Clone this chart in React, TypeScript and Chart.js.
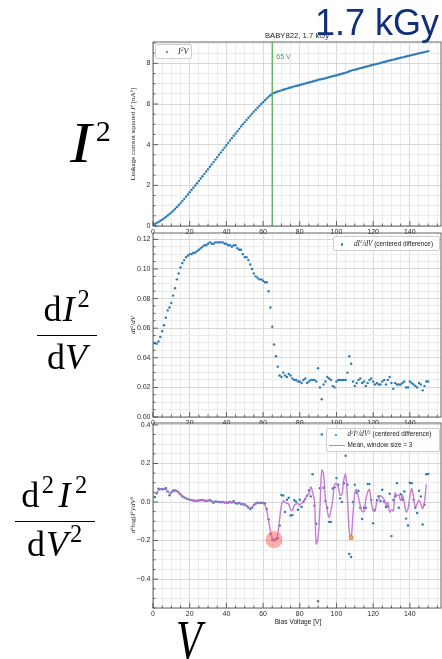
import React, { useEffect, useRef } from "react";
import { Chart, registerables } from "chart.js";

Chart.register(...registerables);

// ---------------- data ----------------
const VOLTAGE = [
  1, 2, 3, 4, 5, 6, 7, 8, 9, 10, 11, 12, 13, 14, 15, 16, 17, 18, 19, 20,
  21, 22, 23, 24, 25, 26, 27, 28, 29, 30, 31, 32, 33, 34, 35, 36, 37, 38, 39, 40,
  41, 42, 43, 44, 45, 46, 47, 48, 49, 50, 51, 52, 53, 54, 55, 56, 57, 58, 59, 60,
  61, 62, 63, 64, 65, 66, 67, 68, 69, 70, 71, 72, 73, 74, 75, 76, 77, 78, 79, 80,
  81, 82, 83, 84, 85, 86, 87, 88, 89, 90, 91, 92, 93, 94, 95, 96, 97, 98, 99, 100,
  101, 102, 103, 104, 105, 106, 107, 108, 109, 110, 111, 112, 113, 114, 115, 116, 117, 118, 119, 120,
  121, 122, 123, 124, 125, 126, 127, 128, 129, 130, 131, 132, 133, 134, 135, 136, 137, 138, 139, 140,
  141, 142, 143, 144, 145, 146, 147, 148, 149, 150,
];

const I_SQUARED = [
  0.100, 0.150, 0.201, 0.255, 0.313, 0.375, 0.442, 0.514, 0.588, 0.665,
  0.747, 0.834, 0.927, 1.024, 1.125, 1.229, 1.335, 1.443, 1.552, 1.662,
  1.772, 1.883, 1.994, 2.106, 2.219, 2.333, 2.448, 2.564, 2.680, 2.797,
  2.915, 3.032, 3.149, 3.267, 3.385, 3.503, 3.621, 3.739, 3.856, 3.973,
  4.089, 4.205, 4.320, 4.436, 4.552, 4.666, 4.779, 4.892, 5.002, 5.110,
  5.218, 5.324, 5.427, 5.527, 5.624, 5.719, 5.813, 5.906, 5.999, 6.091,
  6.182, 6.273, 6.358, 6.432, 6.493, 6.542, 6.583, 6.617, 6.645, 6.672,
  6.702, 6.730, 6.757, 6.786, 6.814, 6.840, 6.865, 6.890, 6.914, 6.938,
  6.961, 6.986, 7.012, 7.035, 7.059, 7.084, 7.109, 7.134, 7.158, 7.191,
  7.211, 7.223, 7.245, 7.269, 7.296, 7.322, 7.347, 7.368, 7.388, 7.412,
  7.437, 7.462, 7.487, 7.512, 7.537, 7.567, 7.608, 7.644, 7.668, 7.689,
  7.712, 7.737, 7.763, 7.786, 7.810, 7.831, 7.854, 7.879, 7.905, 7.929,
  7.951, 7.974, 7.996, 8.018, 8.042, 8.067, 8.089, 8.114, 8.141, 8.164,
  8.183, 8.206, 8.228, 8.250, 8.272, 8.295, 8.319, 8.339, 8.359, 8.383,
  8.406, 8.428, 8.449, 8.469, 8.492, 8.514, 8.532, 8.553, 8.577, 8.601,
];

const DI2_DV = [
  0.050, 0.0495, 0.051, 0.054, 0.058, 0.062, 0.067, 0.072, 0.074, 0.077,
  0.082, 0.087, 0.093, 0.097, 0.101, 0.104, 0.106, 0.108, 0.109, 0.110,
  0.110, 0.111, 0.111, 0.112, 0.113, 0.114, 0.115, 0.116, 0.116, 0.117,
  0.118, 0.117, 0.117, 0.118, 0.118, 0.118, 0.118, 0.118, 0.117, 0.117,
  0.116, 0.116, 0.115, 0.116, 0.116, 0.114, 0.113, 0.113, 0.110, 0.108,
  0.108, 0.106, 0.103, 0.100, 0.097, 0.095, 0.094, 0.093, 0.093, 0.092,
  0.091, 0.091, 0.085, 0.074, 0.061, 0.049, 0.041, 0.034, 0.028, 0.027,
  0.030, 0.028, 0.027, 0.029, 0.028, 0.026, 0.025, 0.025, 0.024, 0.024,
  0.023, 0.025, 0.026, 0.023, 0.024, 0.025, 0.025, 0.025, 0.024, 0.033,
  0.020, 0.012, 0.022, 0.024, 0.027, 0.026, 0.025, 0.021, 0.020, 0.024,
  0.025, 0.025, 0.025, 0.025, 0.025, 0.030, 0.041, 0.036, 0.024, 0.021,
  0.023, 0.025, 0.026, 0.023, 0.024, 0.021, 0.023, 0.025, 0.026, 0.024,
  0.022, 0.023, 0.022, 0.022, 0.024, 0.025, 0.022, 0.025, 0.027, 0.023,
  0.019, 0.023, 0.022, 0.022, 0.022, 0.023, 0.024, 0.020, 0.020, 0.024,
  0.023, 0.022, 0.021, 0.020, 0.023, 0.022, 0.018, 0.021, 0.024, 0.024,
];

const D2_LOG_I2 = [
  0.026, 0.045, 0.069, 0.067, 0.066, 0.068, 0.072, 0.055, 0.035, 0.050,
  0.060, 0.060, 0.058, 0.050, 0.040, 0.030, 0.024, 0.019, 0.015, 0.012,
  0.010, 0.008, 0.007, 0.007, 0.008, 0.009, 0.010, 0.008, 0.006, 0.007,
  0.010, 0.004, -0.004, 0.003, 0.002, 0.000, -0.001, 0.000, -0.003, -0.002,
  -0.004, 0.000, -0.003, 0.004, -0.006, -0.008, -0.005, -0.010, -0.012, -0.013,
  -0.020, -0.028, -0.036, -0.030, -0.015, -0.008, -0.004, -0.005, -0.004, -0.005,
  -0.007, -0.036, -0.090, -0.165, -0.195, -0.200, -0.192, -0.188, -0.122, 0.036,
  0.034, -0.052, 0.012, 0.022, -0.070, -0.068, 0.009, 0.002, -0.040, 0.012,
  -0.026, 0.003, 0.015, 0.033, 0.060, 0.029, 0.144, -0.019, -0.113, -0.515,
  0.072, 0.350, 0.074, 0.005, -0.030, -0.103, -0.103, 0.070, 0.076, 0.124,
  0.090, 0.019, 0.000, 0.098, 0.240, 0.090, -0.270, -0.285, 0.000, 0.090,
  0.048, 0.058, -0.030, -0.088, -0.030, -0.030, 0.093, 0.093, 0.010, -0.110,
  -0.040, 0.010, 0.030, 0.005, 0.064, 0.003, -0.026, -0.022, 0.043, -0.177,
  0.010, 0.030, 0.098, -0.030, 0.040, 0.012, 0.055, -0.086, -0.122, 0.100,
  0.098, 0.012, -0.030, -0.057, 0.058, 0.029, -0.117, -0.014, 0.144, 0.146,
];

const MEAN_WINDOW3 = [
  null, 0.047, 0.060, 0.067, 0.067, 0.069, 0.065, 0.054, 0.047, 0.048,
  0.057, 0.059, 0.056, 0.049, 0.040, 0.031, 0.024, 0.019, 0.015, 0.012,
  0.010, 0.008, 0.007, 0.007, 0.008, 0.009, 0.009, 0.008, 0.007, 0.008,
  0.007, 0.003, 0.001, 0.000, 0.002, 0.000, 0.000, -0.001, -0.002, -0.003,
  -0.002, -0.002, 0.000, -0.002, -0.003, -0.006, -0.008, -0.009, -0.012, -0.015,
  -0.020, -0.028, -0.031, -0.027, -0.018, -0.009, -0.006, -0.004, -0.005, -0.005,
  -0.016, -0.044, -0.097, -0.150, -0.187, -0.196, -0.193, -0.167, -0.091, -0.017,
  0.006, -0.002, -0.006, -0.012, -0.039, -0.043, -0.019, -0.010, -0.009, -0.018,
  -0.004, -0.003, 0.017, 0.036, 0.041, 0.078, 0.051, 0.004, -0.216, -0.185,
  -0.031, 0.165, 0.143, 0.016, -0.043, -0.079, -0.045, 0.014, 0.090, 0.097,
  0.078, 0.036, 0.039, 0.113, 0.143, 0.020, -0.155, -0.185, -0.065, 0.046,
  0.065, 0.025, -0.020, -0.049, -0.049, 0.011, 0.052, 0.065, -0.002, -0.047,
  -0.047, 0.000, 0.015, 0.033, 0.024, 0.014, -0.015, -0.002, -0.052, -0.041,
  -0.046, 0.046, 0.033, 0.036, 0.007, 0.036, -0.006, -0.051, -0.036, 0.025,
  0.070, 0.027, -0.025, -0.010, 0.010, -0.010, -0.034, 0.004, 0.092, null,
];

const KNEE_VOLTAGE = 65;
const KNEE_LABEL = "65 V";
const CIRCLE_MARK_V = [66];
const CIRCLE_MARK_Y = [-0.196];
const SQUARE_MARK_V = [108];
const SQUARE_MARK_Y = [-0.185];

const X_TICK_VALUES = [0, 20, 40, 60, 80, 100, 120, 140];
const X_TICK_LABELS = ["0", "20", "40", "60", "80", "100", "120", "140"];
const Y1_TICK_VALUES = [0, 2, 4, 6, 8];
const Y1_TICK_LABELS = ["0", "2", "4", "6", "8"];
const Y2_TICK_VALUES = [0, 0.02, 0.04, 0.06, 0.08, 0.1, 0.12];
const Y2_TICK_LABELS = ["0.00", "0.02", "0.04", "0.06", "0.08", "0.10", "0.12"];
const Y3_TICK_VALUES = [-0.4, -0.2, 0, 0.2, 0.4];
const Y3_TICK_LABELS = ["\u22120.4", "\u22120.2", "0.0", "0.2", "0.4"];

// ---------------- layout / style ----------------
const W = 442;
const H = 659;
const PLOT_LEFT = 153;
const PLOT_RIGHT = 441;
const X_AXIS_H = 12;
const X_MIN = 0;
const X_MAX = 157;
const X_MINOR = 5;

const GRID_MAJOR = "#d8d8d8";
const GRID_MINOR = "#ececec";
const FRAME = "#3f3f3f";
const BLUE = "#2a7ab8";
const PURPLE = "rgba(194,114,204,0.92)";
const GREEN = "#5aab5a";
const TICK_FONT = { family: '"Liberation Sans", Arial, sans-serif', size: 7 };
const SERIF = '"Liberation Serif", "Times New Roman", serif';
const SANS = '"Liberation Sans", Arial, sans-serif';

const TOP = { top: 42, bottom: 226, yMin: 0, yMax: 9.05, yStep: 0.5, yVals: Y1_TICK_VALUES, yLabels: Y1_TICK_LABELS };
const MID = { top: 233, bottom: 417, yMin: 0, yMax: 0.1243, yStep: 0.005, yVals: Y2_TICK_VALUES, yLabels: Y2_TICK_LABELS };
const BOT = { top: 423, bottom: 608, yMin: -0.55, yMax: 0.41, yStep: 0.05, yVals: Y3_TICK_VALUES, yLabels: Y3_TICK_LABELS };

function ticksBetween(min: number, max: number, step: number): number[] {
  const out: number[] = [];
  const start = Math.ceil(min / step - 1e-9);
  for (let k = start; k * step <= max + 1e-9; k++) out.push(Number((k * step).toFixed(6)));
  return out;
}
function isMajor(v: number, list: number[]) {
  return list.some((m) => Math.abs(m - v) < 1e-7);
}
function labelFor(v: number, vals: number[], labels: string[]) {
  const i = vals.findIndex((m) => Math.abs(m - v) < 1e-7);
  return i >= 0 ? labels[i] : "";
}

function makeFramePlugin(yMajors: number[]) {
  return {
    id: "frameTicks",
    afterDatasetsDraw(chart: any) {
      const { ctx, chartArea: a, scales } = chart;
      ctx.save();
      ctx.strokeStyle = FRAME;
      ctx.lineWidth = 0.8;
      ctx.beginPath();
      for (const t of scales.x.ticks) {
        const px = scales.x.getPixelForValue(t.value);
        const len = isMajor(t.value, X_TICK_VALUES) ? 5 : 2.5;
        ctx.moveTo(px, a.bottom);
        ctx.lineTo(px, a.bottom - len);
      }
      for (const t of scales.y.ticks) {
        const py = scales.y.getPixelForValue(t.value);
        const len = isMajor(t.value, yMajors) ? 5 : 2.5;
        ctx.moveTo(a.left, py);
        ctx.lineTo(a.left + len, py);
      }
      ctx.stroke();
      ctx.strokeRect(a.left, a.top, a.right - a.left, a.bottom - a.top);
      ctx.restore();
    },
  };
}

function makeKneePlugin() {
  return {
    id: "kneeLine",
    afterDatasetsDraw(chart: any) {
      const { ctx, chartArea: a, scales } = chart;
      const px = scales.x.getPixelForValue(KNEE_VOLTAGE);
      ctx.save();
      ctx.strokeStyle = GREEN;
      ctx.lineWidth = 1.3;
      ctx.beginPath();
      ctx.moveTo(px, a.top);
      ctx.lineTo(px, a.bottom);
      ctx.stroke();
      ctx.fillStyle = "#4a9e4a";
      ctx.font = '7px "Liberation Sans", Arial, sans-serif';
      ctx.textBaseline = "alphabetic";
      ctx.fillText(KNEE_LABEL, px + 4, a.top + 17);
      ctx.restore();
    },
  };
}

function makeConfig(p: any, datasets: any[], extra: any[]) {
  const xTicks = ticksBetween(X_MIN, X_MAX, X_MINOR);
  const yTicks = ticksBetween(p.yMin, p.yMax, p.yStep);
  return {
    type: "scatter",
    data: { datasets },
    options: {
      responsive: false,
      animation: false,
      devicePixelRatio: 1,
      events: [],
      layout: {
        autoPadding: false,
        padding: { left: 0, right: W - PLOT_RIGHT, top: p.top, bottom: H - p.bottom - X_AXIS_H },
      },
      plugins: { legend: { display: false }, tooltip: { enabled: false }, title: { display: false } },
      scales: {
        x: {
          type: "linear",
          min: X_MIN,
          max: X_MAX,
          afterFit: (s: any) => { s.height = X_AXIS_H; },
          afterBuildTicks: (s: any) => { s.ticks = xTicks.map((v) => ({ value: v })); },
          border: { display: false },
          grid: {
            drawTicks: false,
            lineWidth: 1,
            color: (c: any) => (c.tick && isMajor(c.tick.value, X_TICK_VALUES) ? GRID_MAJOR : GRID_MINOR),
          },
          ticks: {
            autoSkip: false,
            maxRotation: 0,
            minRotation: 0,
            padding: 2,
            color: "#2b2b2b",
            font: TICK_FONT,
            callback: (v: any) => labelFor(Number(v), X_TICK_VALUES, X_TICK_LABELS),
          },
        },
        y: {
          type: "linear",
          min: p.yMin,
          max: p.yMax,
          afterFit: (s: any) => { s.width = PLOT_LEFT; },
          afterBuildTicks: (s: any) => { s.ticks = yTicks.map((v) => ({ value: v })); },
          border: { display: false },
          grid: {
            drawTicks: false,
            lineWidth: 1,
            color: (c: any) => (c.tick && isMajor(c.tick.value, p.yVals) ? GRID_MAJOR : GRID_MINOR),
          },
          ticks: {
            autoSkip: false,
            padding: 2.5,
            color: "#2b2b2b",
            font: TICK_FONT,
            callback: (v: any) => labelFor(Number(v), p.yVals, p.yLabels),
          },
        },
      },
    },
    plugins: [makeFramePlugin(p.yVals), ...extra],
  } as any;
}

function pts(ys: (number | null)[]) {
  return VOLTAGE.map((v, i) => ({ x: v, y: ys[i] }));
}

function dots(data: any[], order = 0) {
  return {
    data,
    showLine: false,
    pointRadius: 1.2,
    pointBorderWidth: 0,
    pointBackgroundColor: BLUE,
    backgroundColor: BLUE,
    order,
  };
}

// ---------------- text helpers ----------------
function Sup({ children, size = 0.68, raise = 0.38, ml = 0 }: any) {
  return (
    <span style={{ fontSize: `${size}em`, position: "relative", top: `${-raise / size}em`, lineHeight: 0, marginLeft: ml }}>
      {children}
    </span>
  );
}

const abs = (left: number, top: number, extra: any = {}) => ({ position: "absolute" as const, left, top, ...extra });

export default function App() {
  const topRef = useRef<HTMLCanvasElement>(null);
  const midRef = useRef<HTMLCanvasElement>(null);
  const botRef = useRef<HTMLCanvasElement>(null);

  useEffect(() => {
    const charts = [
      new Chart(topRef.current!, makeConfig(TOP, [dots(pts(I_SQUARED))], [makeKneePlugin()])),
      new Chart(midRef.current!, makeConfig(MID, [dots(pts(DI2_DV))], [])),
      new Chart(
        botRef.current!,
        makeConfig(
          BOT,
          [
            dots(pts(D2_LOG_I2), 3),
            {
              data: pts(MEAN_WINDOW3),
              showLine: true,
              pointRadius: 0,
              borderColor: PURPLE,
              borderWidth: 1.4,
              tension: 0.4,
              spanGaps: false,
              fill: false,
              order: 2,
            },
            {
              data: SQUARE_MARK_V.map((v, i) => ({ x: v, y: SQUARE_MARK_Y[i] })),
              pointStyle: "rect",
              pointRadius: 2.4,
              pointBackgroundColor: "#f7a868",
              pointBorderColor: "#e0741f",
              pointBorderWidth: 0.8,
              showLine: false,
              order: 1,
            },
            {
              data: CIRCLE_MARK_V.map((v, i) => ({ x: v, y: CIRCLE_MARK_Y[i] })),
              pointRadius: 8.5,
              pointBackgroundColor: "rgba(255,92,92,0.5)",
              pointBorderWidth: 0,
              showLine: false,
              order: 0,
            },
          ],
          []
        )
      ),
    ];
    return () => charts.forEach((c) => c.destroy());
  }, []);

  const canvasStyle = { position: "absolute" as const, left: 0, top: 0, width: W, height: H };
  const legendBox = { border: "0.8px solid #cfcfcf", borderRadius: 2, background: "rgba(255,255,255,0.85)", boxSizing: "border-box" as const };
  const rotLabel = (cy: number) => ({
    position: "absolute" as const,
    left: 133,
    top: cy,
    transform: "translate(-50%, -50%) rotate(-90deg)",
    fontFamily: SERIF,
    fontSize: 7,
    lineHeight: 1,
    whiteSpace: "nowrap" as const,
    color: "#222",
  });

  return (
    <div style={{ position: "absolute", left: 0, top: 0, width: W, height: H, overflow: "hidden", background: "#fff" }}>
      <canvas ref={topRef} width={W} height={H} style={canvasStyle} />
      <canvas ref={midRef} width={W} height={H} style={canvasStyle} />
      <canvas ref={botRef} width={W} height={H} style={canvasStyle} />

      {/* title */}
      <div style={abs(297, 31.8, { transform: "translateX(-50%)", fontFamily: SANS, fontSize: 7.7, lineHeight: 1, whiteSpace: "nowrap", color: "#222" })}>
        BABY822, 1.7 kGy
      </div>
      <div style={abs(315, 4.5, { fontFamily: SANS, fontSize: 36, lineHeight: 1, whiteSpace: "nowrap", color: "#12307a" })}>
        1.7 kGy
      </div>

      {/* y axis labels */}
      <div style={rotLabel(134)}>
        Leakage current squared <i>I</i>
        <Sup size={0.7} raise={0.35}>2</Sup> [nA<Sup size={0.7} raise={0.35}>2</Sup>]
      </div>
      <div style={rotLabel(325)}>
        <i>dI</i>
        <Sup size={0.7} raise={0.35}>2</Sup>/<i>dV</i>
      </div>
      <div style={rotLabel(515)}>
        <i>d</i>
        <Sup size={0.7} raise={0.35}>2</Sup>log(<i>I</i>
        <Sup size={0.7} raise={0.35}>2</Sup>)/<i>dV</i>
        <Sup size={0.7} raise={0.35}>2</Sup>
      </div>
      <div style={abs(298, 618.5, { transform: "translateX(-50%)", fontFamily: SANS, fontSize: 6.6, lineHeight: 1, whiteSpace: "nowrap", color: "#222" })}>
        Bias Voltage [V]
      </div>

      {/* legends */}
      <div style={abs(155, 44, { width: 37, height: 14.5, ...legendBox })}>
        <div style={abs(10, 6, { width: 2.4, height: 2.4, borderRadius: "50%", background: BLUE })} />
        <div style={abs(22, 2.5, { fontFamily: SERIF, fontStyle: "italic", fontSize: 8, lineHeight: 1, whiteSpace: "nowrap", color: "#222" })}>
          I<Sup size={0.68} raise={0.36}>2</Sup>V
        </div>
      </div>
      <div style={abs(333, 236, { width: 107, height: 15, ...legendBox })}>
        <div style={abs(6.8, 6.3, { width: 2.4, height: 2.4, borderRadius: "50%", background: BLUE })} />
        <div style={abs(20, 3.5, { fontSize: 7.2, lineHeight: 1, whiteSpace: "nowrap", color: "#222" })}>
          <span style={{ fontFamily: SERIF, fontStyle: "italic" }}>
            dI<Sup size={0.68} raise={0.36}>2</Sup>/dV
          </span>
          <span style={{ fontFamily: SANS, fontSize: 6.4 }}> (centered difference)</span>
        </div>
      </div>
      <div style={abs(326, 428, { width: 114, height: 24, ...legendBox })}>
        <div style={abs(8, 5.1, { width: 2.4, height: 2.4, borderRadius: "50%", background: BLUE })} />
        <div style={abs(20.5, 2.3, { fontSize: 7.2, lineHeight: 1, whiteSpace: "nowrap", color: "#222" })}>
          <span style={{ fontFamily: SERIF, fontStyle: "italic" }}>
            d<Sup size={0.68} raise={0.36}>2</Sup>I<Sup size={0.68} raise={0.36}>2</Sup>/dV<Sup size={0.68} raise={0.36}>2</Sup>
          </span>
          <span style={{ fontFamily: SANS, fontSize: 6.4 }}> (centered difference)</span>
        </div>
        <div style={abs(1.5, 16.2, { width: 16, height: 0, borderTop: `1.4px solid ${PURPLE}` })} />
        <div style={abs(20.5, 13.3, { fontFamily: SANS, fontSize: 6.4, lineHeight: 1, whiteSpace: "nowrap", color: "#222" })}>
          Mean, window size = 3
        </div>
      </div>

      {/* big math annotations */}
      <div style={abs(70, 115, { fontFamily: SERIF, fontSize: 56, lineHeight: 1, whiteSpace: "nowrap", color: "#000" })}>
        <i style={{ display: "inline-block", transform: "scaleX(1.15)", transformOrigin: "left" }}>I</i>
        <Sup size={0.54} raise={0.37} ml={7}>2</Sup>
      </div>

      <div style={abs(37, 291, { width: 60, fontFamily: SERIF, fontSize: 36, lineHeight: 1, color: "#000", display: "flex", flexDirection: "column", alignItems: "center" })}>
        <div style={{ whiteSpace: "nowrap", height: 36, letterSpacing: 1 }}>
          d<i>I</i>
          <Sup size={0.68} raise={0.39} ml={2}>2</Sup>
        </div>
        <div style={{ width: "100%", height: 0, borderTop: "1.5px solid #000", marginTop: 8 }} />
        <div style={{ whiteSpace: "nowrap", height: 36, marginTop: 3.3 }}>
          d<i>V</i>
        </div>
      </div>

      <div style={abs(15, 477, { width: 80, fontFamily: SERIF, fontSize: 36, lineHeight: 1, color: "#000", display: "flex", flexDirection: "column", alignItems: "center" })}>
        <div style={{ whiteSpace: "nowrap", height: 36, letterSpacing: 1.5 }}>
          d<Sup size={0.68} raise={0.39} ml={1}>2</Sup>
          <i style={{ marginLeft: 3 }}>I</i>
          <Sup size={0.68} raise={0.39} ml={3}>2</Sup>
        </div>
        <div style={{ width: "100%", height: 0, borderTop: "1.5px solid #000", marginTop: 7.8 }} />
        <div style={{ whiteSpace: "nowrap", height: 36, marginTop: 3.8, letterSpacing: 1 }}>
          d<i>V</i>
          <Sup size={0.68} raise={0.39} ml={1}>2</Sup>
        </div>
      </div>

      <div style={abs(176, 613, { fontFamily: SERIF, fontSize: 56, lineHeight: 1, whiteSpace: "nowrap", color: "#000" })}>
        <i style={{ display: "inline-block", transform: "scaleX(0.75)", transformOrigin: "left" }}>V</i>
      </div>
    </div>
  );
}
